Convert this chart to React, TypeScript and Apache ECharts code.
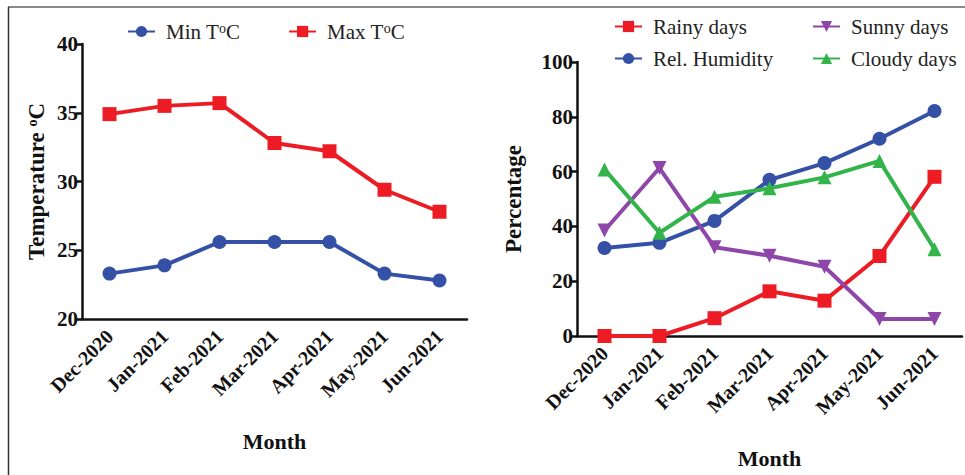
import React, { useEffect, useRef } from "react";
import * as echarts from "echarts";

const months = ["Dec-2020", "Jan-2021", "Feb-2021", "Mar-2021", "Apr-2021", "May-2021", "Jun-2021"];
const minTemp = [23.3, 23.9, 25.6, 25.6, 25.6, 23.3, 22.8];
const maxTemp = [34.9, 35.5, 35.7, 32.8, 32.2, 29.4, 27.8];
const rainyDays = [0, 0, 6.5, 16.3, 12.9, 29.2, 58.1];
const sunnyDays = [38.5, 61.3, 32.4, 29.3, 25.3, 6.2, 6.2];
const relHumidity = [32.1, 34, 42, 57, 63.1, 72, 82.1];
const cloudyDays = [60.8, 37.7, 50.8, 53.9, 57.9, 63.9, 31.7];
const tempTicks = { min: 20, max: 40, interval: 5 };
const pctTicks = { min: 0, max: 100, interval: 20 };

const FONT = "Liberation Serif";
const RED = "#ED1C24";
const BLUE = "#3451A6";
const PURPLE = "#8E47A8";
const GREEN = "#33B44A";

const supRich = {
  sup: { fontSize: 14, fontFamily: FONT, color: "#222", verticalAlign: "top", lineHeight: 14, padding: [0, 0, 10, 0] },
};

function catAxis(gridIndex: number) {
  return {
    type: "category",
    gridIndex,
    data: months,
    boundaryGap: true,
    name: "Month",
    nameLocation: "middle",
    nameGap: 111,
    nameTextStyle: { fontFamily: FONT, fontWeight: "bold", fontSize: 22, color: "#111" },
    axisLine: { lineStyle: { color: "#111", width: 2.5 } },
    axisTick: { alignWithLabel: true, length: 6, lineStyle: { color: "#111", width: 2.5 } },
    axisLabel: { rotate: 45, margin: 14, fontFamily: FONT, fontWeight: "bold", fontSize: 20, color: "#111", interval: 0 },
    splitLine: { show: false },
  };
}

const valAxisStyle = {
  axisLine: { show: true, lineStyle: { color: "#111", width: 2.5 } },
  axisTick: { show: true, length: 6, lineStyle: { color: "#111", width: 2.5 } },
  axisLabel: { fontFamily: FONT, fontWeight: "bold", fontSize: 21, color: "#111", margin: 4 },
  splitLine: { show: false },
};

export default function App() {
  const ref = useRef<HTMLDivElement>(null);
  useEffect(() => {
    if (!ref.current) return;
    const chart = echarts.init(ref.current, null, { renderer: "svg" });
    const lineSeries = (name: string, data: number[], color: string, symbol: string, xi: number, size: number, rot = 0) => ({
      type: "line",
      name,
      data,
      xAxisIndex: xi,
      yAxisIndex: xi,
      symbol,
      symbolSize: size,
      symbolRotate: rot,
      itemStyle: { color },
      lineStyle: { color, width: 4 },
      z: 3,
    });
    const legendText = { fontFamily: FONT, fontSize: 21, color: "#222", padding: [0, 0, 0, 6] };
    chart.setOption({
      animation: false,
      backgroundColor: "#fff",
      graphic: [
        { type: "line", shape: { x1: 8, y1: 7, x2: 965, y2: 7 }, style: { stroke: "#8a8a8a", lineWidth: 2 } },
        { type: "line", shape: { x1: 8.5, y1: 7, x2: 8.5, y2: 475 }, style: { stroke: "#333", lineWidth: 1.5 } },
      ],
      legend: [
        {
          left: 122,
          top: 16,
          orient: "horizontal",
          itemWidth: 27,
          itemHeight: 14,
          itemGap: 48,
          data: ["Min", "Max"],
          formatter: (n: string) => `${n} T{sup|o}C`,
          textStyle: { ...legendText, rich: supRich },
        },
        {
          left: 609,
          top: 11,
          orient: "vertical",
          itemWidth: 27,
          itemHeight: 14,
          itemGap: 11,
          data: ["Rainy days", "Rel. Humidity"],
          textStyle: legendText,
        },
        {
          left: 807,
          top: 11,
          orient: "vertical",
          itemWidth: 27,
          itemHeight: 14,
          itemGap: 11,
          data: ["Sunny days", "Cloudy days"],
          textStyle: legendText,
        },
      ],
      grid: [
        { left: 82, top: 44, width: 385, height: 275 },
        { left: 577, top: 62, width: 385, height: 274 },
      ],
      xAxis: [catAxis(0), catAxis(1)],
      yAxis: [
        {
          type: "value",
          gridIndex: 0,
          ...tempTicks,
          name: "Temperature {sup|o}C",
          nameLocation: "middle",
          nameGap: 34,
          nameTextStyle: { fontFamily: FONT, fontWeight: "bold", fontSize: 23, color: "#111", rich: { sup: { ...supRich.sup, fontWeight: "bold", color: "#111" } } },
          ...valAxisStyle,
        },
        {
          type: "value",
          gridIndex: 1,
          ...pctTicks,
          name: "Percentage",
          nameLocation: "middle",
          nameGap: 52,
          nameTextStyle: { fontFamily: FONT, fontWeight: "bold", fontSize: 23, color: "#111" },
          ...valAxisStyle,
        },
      ],
      series: [
        lineSeries("Min", minTemp, BLUE, "circle", 0, 14),
        lineSeries("Max", maxTemp, RED, "rect", 0, 14),
        lineSeries("Rainy days", rainyDays, RED, "rect", 1, 14),
        lineSeries("Rel. Humidity", relHumidity, BLUE, "circle", 1, 14),
        lineSeries("Sunny days", sunnyDays, PURPLE, "triangle", 1, 14, 180),
        lineSeries("Cloudy days", cloudyDays, GREEN, "triangle", 1, 14),
      ],
    });
    return () => chart.dispose();
  }, []);
  return <div ref={ref} style={{ position: "fixed", left: 0, top: 0, width: 965, height: 475 }} />;
}
